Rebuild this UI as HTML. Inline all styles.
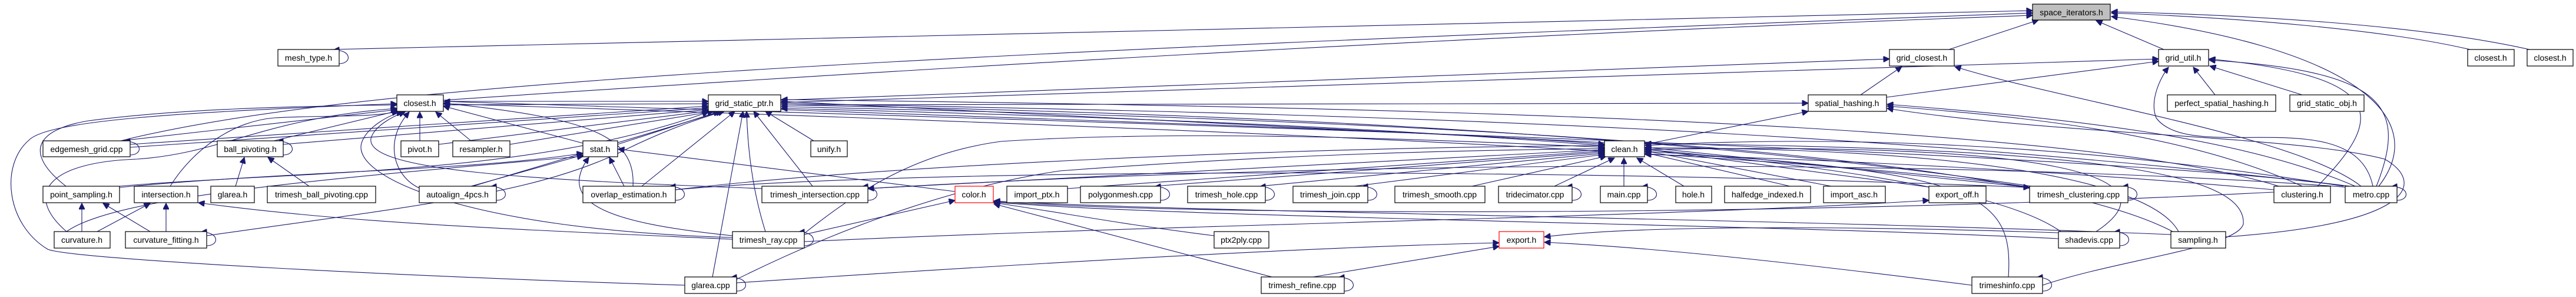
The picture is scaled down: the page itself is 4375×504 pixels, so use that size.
<!DOCTYPE html>
<html><head><meta charset="utf-8"><style>
html,body{margin:0;padding:0;background:#fff;width:4375px;height:504px;overflow:hidden}
svg{display:block}
text{font-family:"Liberation Sans",sans-serif;font-size:14px;fill:#000;text-anchor:middle}
rect{fill:#fff;stroke:#000;stroke-width:1.2}
path{fill:none;stroke:#191970;stroke-width:1.1}
</style></head><body>
<svg width="4375" height="504" viewBox="0 0 4375 504" xmlns="http://www.w3.org/2000/svg">
<defs><marker id="a" viewBox="0 0 10 10" refX="10" refY="5" markerWidth="13" markerHeight="10" orient="auto" markerUnits="userSpaceOnUse"><path d="M0,0 L10,5 L0,10 z" style="fill:#191970;stroke:#191970"/></marker></defs>
<g marker-end="url(#a)">
<!-- to space_iterators -->
<path d="M560,84 L3452,18"/>
<path d="M205,239 C600,140 1500,95 3452,22"/>
<path d="M753,170 C1500,120 2500,60 3452,26"/>
<path d="M3310,84 L3462,34"/>
<path d="M3675,84 L3560,35"/>
<path d="M4195,84 C4050,50 3800,30 3586,22"/>
<path d="M4296,84 C4100,40 3800,25 3586,20"/>
<path d="M4040,316 C4130,200 4000,80 3586,28"/>
<!-- grid_closest -->
<path d="M1326,170 L3209,100"/>
<path d="M3160,161 L3230,113"/>
<path d="M4010,316 C3900,230 3500,170 3320,113"/>
<!-- grid_util -->
<path d="M1326,174 L3666,100"/>
<path d="M3204,165 L3666,104"/>
<path d="M3762,161 L3725,114"/>
<path d="M3910,161 L3753,112"/>
<path d="M4030,316 C4000,170 3720,280 3662,200 C3650,170 3670,130 3683,114"/>
<path d="M3936,316 C4050,200 4060,130 3752,100"/>
<path d="M4036,316 C4090,180 4050,120 3752,102"/>
<!-- spatial_hashing -->
<path d="M1326,178 L3071,175"/>
<path d="M2794,245 L3071,189"/>
<path d="M4000,316 C3800,230 3500,200 3205,177"/>
<path d="M3910,316 C3700,220 3400,195 3205,180"/>
<!-- closest.h -->
<path d="M205,239 L674,186"/>
<path d="M112,316 C40,260 60,220 150,205 C300,185 500,180 674,178"/>
<path d="M1163,484 C700,470 120,440 81,423 C10,380 0,280 49,238 C80,205 300,190 674,176"/>
<path d="M113,393 C40,330 80,275 233,270 C380,260 450,200 674,184"/>
<path d="M289,316 C330,250 400,205 466,200 C560,195 630,200 676,189"/>
<path d="M465,239 L676,188"/>
<path d="M713,239 L713,190"/>
<path d="M800,239 L740,190"/>
<path d="M990,243 L753,180"/>
<path d="M712,319 C670,300 650,240 695,190"/>
<path d="M1244,403 C800,390 590,300 615,240 C625,215 660,195 684,190"/>
<path d="M1294,320 C900,305 620,290 630,235 C635,215 665,198 688,190"/>
<path d="M1075,316 C1080,230 1000,200 753,175"/>
<path d="M3990,316 C3500,250 1600,200 754,172"/>
<path d="M3450,318 C3000,250 1500,200 754,176"/>
<!-- grid_static_ptr -->
<path d="M753,172 L1203,172"/>
<path d="M753,178 L1203,176"/>
<path d="M221,245 L1203,180"/>
<path d="M221,250 L1203,183"/>
<path d="M481,245 L1203,186"/>
<path d="M745,245 L1205,188"/>
<path d="M866,245 L1212,189"/>
<path d="M1049,245 L1222,189"/>
<path d="M803,316 L1226,189"/>
<path d="M1090,316 L1248,189"/>
<path d="M1210,470 L1262,189"/>
<path d="M1300,393 C1280,330 1270,260 1268,189"/>
<path d="M1380,316 L1280,189"/>
<path d="M1382,239 L1300,189"/>
<path d="M351,400 C700,350 900,330 1050,260 C1130,220 1190,200 1230,189"/>
<path d="M2725,242 L1327,172"/>
<path d="M3990,316 C3000,200 2000,190 1327,175"/>
<path d="M3450,316 C2800,220 2000,190 1327,178"/>
<path d="M3690,393 C3400,240 2200,200 1327,181"/>
<path d="M3500,393 C3300,250 2200,205 1327,184"/>
<path d="M3870,316 C3500,200 2200,180 1327,169"/>
<path d="M203,316 C500,290 900,300 1203,190"/>
<!-- stat.h -->
<path d="M800,316 L990,263"/>
<path d="M203,318 C500,290 800,290 990,260"/>
<path d="M1060,316 L1035,267"/>
<path d="M1244,400 C1050,380 940,350 1000,267"/>
<path d="M1622,325 L1050,253"/>
<path d="M113,393 C200,330 600,300 991,265"/>
<!-- intersection / point_sampling / ball_pivoting -->
<path d="M165,393 L255,345"/>
<path d="M282,393 L282,345"/>
<path d="M1244,406 C900,390 600,380 337,344"/>
<path d="M139,393 L139,345"/>
<path d="M255,393 L175,345"/>
<path d="M400,316 L415,267"/>
<path d="M525,316 L455,267"/>
<!-- color.h -->
<path d="M1366,398 L1622,340"/>
<path d="M2062,400 C1900,380 1800,360 1688,344"/>
<path d="M2160,470 L1688,346"/>
<path d="M3496,405 C3000,380 2000,370 1688,343"/>
<path d="M3687,398 C3000,370 2000,360 1688,341"/>
<path d="M3862,326 C3000,370 2000,365 1688,342"/>
<!-- export.h -->
<path d="M2230,470 L2546,418"/>
<path d="M1251,480 C1700,450 2200,420 2546,412"/>
<path d="M3349,484 C3000,440 2800,420 2623,411"/>
<path d="M3496,395 C3200,385 2800,380 2623,402"/>
<path d="M1366,410 C2000,380 2800,370 3276,340"/>
<!-- clean.h from left -->
<path d="M1960,316 L2725,258"/>
<path d="M2140,316 L2725,260"/>
<path d="M2300,316 L2725,262"/>
<path d="M2500,316 L2728,265"/>
<path d="M1813,320 L2725,256"/>
<path d="M1474,320 L2725,254"/>
<path d="M1366,396 C1450,330 1550,260 1700,240 C2000,220 2400,235 2725,250"/>
<path d="M1251,474 C1400,400 1600,320 1800,290 C2200,260 2500,255 2725,252"/>
<path d="M1147,322 C1500,280 2200,250 2725,247"/>
<path d="M2640,316 L2742,268"/>
<path d="M2758,316 L2758,268"/>
<path d="M2860,316 L2780,268"/>
<path d="M1326,186 C2000,210 2500,225 2725,245"/>
<!-- clean.h from right -->
<path d="M3040,316 L2794,259"/>
<path d="M3110,316 L2794,256"/>
<path d="M3280,318 L2794,253"/>
<path d="M3447,318 L2794,250"/>
<path d="M3980,316 C3500,240 3100,230 2794,247"/>
<path d="M3700,393 C3650,300 3300,250 2794,251"/>
<path d="M3560,393 C3700,300 3500,240 2794,254"/>
<path d="M3411,470 C3420,330 3360,290 2794,257"/>
<path d="M3862,322 C3500,290 3100,270 2794,262"/>
<path d="M3469,484 C3600,440 3800,420 3810,380 C3815,300 3600,250 2794,244"/>
<!-- misc long -->
<path d="M3780,402 C4100,380 4120,310 4050,270 C3900,230 3500,230 3205,184"/>
<path d="M3990,318 C3500,280 2500,260 1474,320"/>
<path d="M1147,322 C1500,290 2500,280 3447,318"/>
</g>
<!-- self loops -->
<g marker-end="url(#a)">
<path d="M576,108 C598,108 598,84 566,85"/>
<path d="M221,263 C243,263 243,239 211,240"/>
<path d="M481,263 C503,263 503,239 471,240"/>
<path d="M843,340 C865,340 865,316 833,317"/>
<path d="M1147,340 C1169,340 1169,316 1137,317"/>
<path d="M1474,340 C1496,340 1496,316 1464,317"/>
<path d="M1971,340 C1993,340 1993,316 1961,317"/>
<path d="M2149,340 C2171,340 2171,316 2139,317"/>
<path d="M2323,340 C2345,340 2345,316 2313,317"/>
<path d="M2670,340 C2692,340 2692,316 2660,317"/>
<path d="M2798,340 C2820,340 2820,316 2788,317"/>
<path d="M3614,340 C3636,340 3636,316 3604,317"/>
<path d="M4071,340 C4093,340 4093,316 4061,317"/>
<path d="M351,417 C373,417 373,393 341,394"/>
<path d="M1366,417 C1388,417 1388,393 1356,394"/>
<path d="M3600,417 C3622,417 3622,393 3590,394"/>
<path d="M1251,494 C1273,494 1273,470 1241,471"/>
<path d="M2283,494 C2305,494 2305,470 2273,471"/>
<path d="M3469,494 C3491,494 3491,470 3459,471"/>
</g>
<!-- nodes -->
<g>
<rect x="3452" y="7" width="132" height="27" style="fill:#bfbfbf"/><text x="3518" y="26">space_iterators.h</text>
<rect x="472" y="84" width="104" height="28"/><text x="524" y="103">mesh_type.h</text>
<rect x="3209" y="84" width="110" height="28"/><text x="3264" y="103">grid_closest.h</text>
<rect x="3666" y="84" width="85" height="28"/><text x="3708" y="103">grid_util.h</text>
<rect x="4191" y="84" width="79" height="28"/><text x="4230" y="103">closest.h</text>
<rect x="4292" y="84" width="78" height="28"/><text x="4331" y="103">closest.h</text>
<rect x="674" y="161" width="79" height="28"/><text x="713" y="180">closest.h</text>
<rect x="1203" y="161" width="123" height="28"/><text x="1264" y="180">grid_static_ptr.h</text>
<rect x="3071" y="161" width="133" height="28"/><text x="3137" y="180">spatial_hashing.h</text>
<rect x="3681" y="161" width="184" height="28"/><text x="3773" y="180">perfect_spatial_hashing.h</text>
<rect x="3889" y="161" width="126" height="28"/><text x="3952" y="180">grid_static_obj.h</text>
<rect x="73" y="239" width="148" height="27"/><text x="147" y="258">edgemesh_grid.cpp</text>
<rect x="369" y="239" width="112" height="27"/><text x="425" y="258">ball_pivoting.h</text>
<rect x="681" y="239" width="64" height="27"/><text x="713" y="258">pivot.h</text>
<rect x="769" y="239" width="97" height="27"/><text x="817" y="258">resampler.h</text>
<rect x="990" y="239" width="59" height="27"/><text x="1019" y="258">stat.h</text>
<rect x="1377" y="239" width="62" height="27"/><text x="1408" y="258">unify.h</text>
<rect x="2725" y="239" width="68" height="27"/><text x="2759" y="258">clean.h</text>
<rect x="73" y="316" width="130" height="28"/><text x="138" y="335">point_sampling.h</text>
<rect x="228" y="316" width="108" height="28"/><text x="282" y="335">intersection.h</text>
<rect x="358" y="316" width="74" height="28"/><text x="395" y="335">glarea.h</text>
<rect x="454" y="316" width="184" height="28"/><text x="546" y="335">trimesh_ball_pivoting.cpp</text>
<rect x="712" y="316" width="131" height="28"/><text x="777" y="335">autoalign_4pcs.h</text>
<rect x="990" y="316" width="157" height="28"/><text x="1068" y="335">overlap_estimation.h</text>
<rect x="1294" y="316" width="180" height="28"/><text x="1384" y="335">trimesh_intersection.cpp</text>
<rect x="1622" y="316" width="65" height="28" style="stroke:#ff0000"/><text x="1654" y="335">color.h</text>
<rect x="1710" y="316" width="103" height="28"/><text x="1761" y="335">import_ptx.h</text>
<rect x="1835" y="316" width="136" height="28"/><text x="1903" y="335">polygonmesh.cpp</text>
<rect x="2017" y="316" width="132" height="28"/><text x="2083" y="335">trimesh_hole.cpp</text>
<rect x="2196" y="316" width="127" height="28"/><text x="2259" y="335">trimesh_join.cpp</text>
<rect x="2369" y="316" width="153" height="28"/><text x="2445" y="335">trimesh_smooth.cpp</text>
<rect x="2545" y="316" width="125" height="28"/><text x="2607" y="335">tridecimator.cpp</text>
<rect x="2718" y="316" width="80" height="28"/><text x="2758" y="335">main.cpp</text>
<rect x="2846" y="316" width="61" height="28"/><text x="2876" y="335">hole.h</text>
<rect x="2929" y="316" width="146" height="28"/><text x="3002" y="335">halfedge_indexed.h</text>
<rect x="3097" y="316" width="105" height="28"/><text x="3149" y="335">import_asc.h</text>
<rect x="3276" y="316" width="97" height="28"/><text x="3324" y="335">export_off.h</text>
<rect x="3447" y="316" width="167" height="28"/><text x="3530" y="335">trimesh_clustering.cpp</text>
<rect x="3862" y="316" width="96" height="28"/><text x="3910" y="335">clustering.h</text>
<rect x="3983" y="316" width="88" height="28"/><text x="4027" y="335">metro.cpp</text>
<rect x="92" y="393" width="95" height="28"/><text x="139" y="412">curvature.h</text>
<rect x="213" y="393" width="138" height="28"/><text x="282" y="412">curvature_fitting.h</text>
<rect x="1244" y="393" width="122" height="28"/><text x="1305" y="412">trimesh_ray.cpp</text>
<rect x="2062" y="393" width="93" height="28"/><text x="2108" y="412">ptx2ply.cpp</text>
<rect x="2546" y="393" width="76" height="28" style="stroke:#ff0000"/><text x="2584" y="412">export.h</text>
<rect x="3496" y="393" width="104" height="28"/><text x="3548" y="412">shadevis.cpp</text>
<rect x="3687" y="393" width="93" height="28"/><text x="3733" y="412">sampling.h</text>
<rect x="1163" y="470" width="88" height="28"/><text x="1207" y="489">glarea.cpp</text>
<rect x="2142" y="470" width="141" height="28"/><text x="2212" y="489">trimesh_refine.cpp</text>
<rect x="3349" y="470" width="120" height="28"/><text x="3409" y="489">trimeshinfo.cpp</text>
</g>
</svg>
</body></html>
